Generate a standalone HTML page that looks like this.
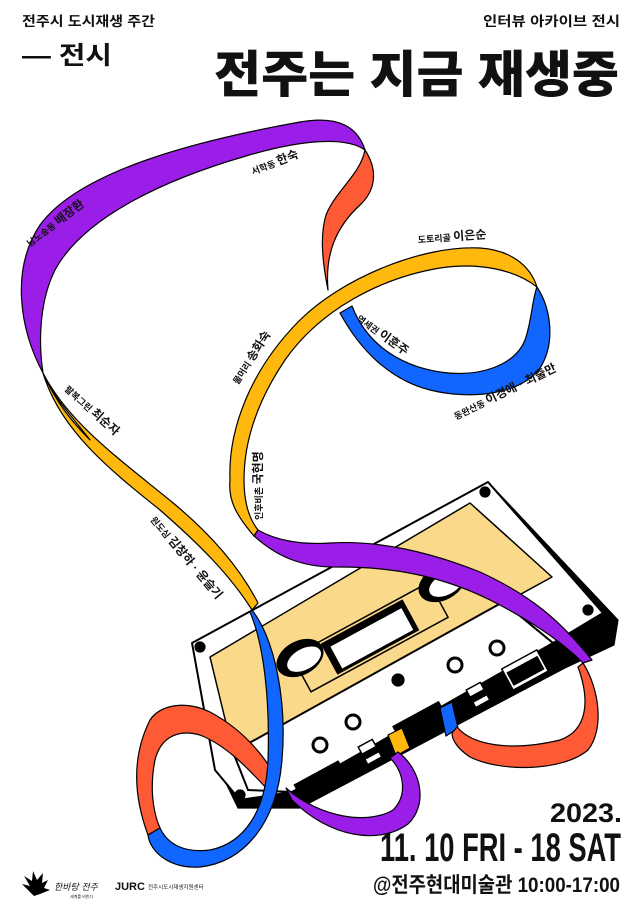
<!DOCTYPE html>
<html><head><meta charset="utf-8"><style>
html,body{margin:0;padding:0;background:#fff}
svg{display:block}
text{font-family:"Liberation Sans","Noto Sans CJK KR",sans-serif;fill:#111}
</style></head><body>
<svg width="642" height="910" viewBox="0 0 642 910" xmlns="http://www.w3.org/2000/svg">
<rect width="642" height="910" fill="#fff"/>
<text x="22" y="26" font-size="13.5" font-weight="bold" textLength="133" lengthAdjust="spacingAndGlyphs">전주시 도시재생 주간</text>
<text x="22" y="64" font-size="25" font-weight="bold" textLength="90" lengthAdjust="spacingAndGlyphs">— 전시</text>
<text x="483" y="26" font-size="13.5" font-weight="bold" textLength="137" lengthAdjust="spacingAndGlyphs">인터뷰 아카이브 전시</text>
<text x="214" y="92" font-size="50" font-weight="900" textLength="405" lengthAdjust="spacingAndGlyphs">전주는 지금 재생중</text>

<g stroke="#000" stroke-width="1.2" stroke-linejoin="round">
<polygon points="488,482 618,620 614,645 565,668 300,808 238,808 222,775 215,768" fill="#000"/>
<polygon points="192,643 488,482 603,613 553,643 292,792 240,800 215,770" fill="#fff" stroke-width="2"/>
<polygon points="210,657 470,503 552,577 233,752" fill="#fbd98a" stroke-width="1.5"/>
<polygon points="233,752 503,602 553,643 292,792 248,790" fill="#fff" stroke-width="2"/>
<g transform="translate(370,637) rotate(-28.5)">
<rect x="-46" y="-17" width="92" height="34" fill="#000"/>
<rect x="-40" y="-11" width="82" height="26" fill="#fff"/>
<rect x="-78" y="-20" width="156" height="40" fill="none" stroke-width="1.5"/>
</g>
<g transform="translate(300,658) rotate(-28.5)"><ellipse rx="24" ry="16" fill="#000" stroke-width="2"/><ellipse cx="3" cy="3" rx="19" ry="11" fill="#fff"/></g>
<g transform="translate(442,583) rotate(-28.5)"><ellipse rx="24" ry="16" fill="#000" stroke-width="2"/><ellipse cx="3" cy="3" rx="19" ry="11" fill="#fff"/></g>
<circle cx="200" cy="647" r="5" fill="#000"/><circle cx="485" cy="492" r="5" fill="#000"/>
<circle cx="588" cy="610" r="5" fill="#000"/><circle cx="240" cy="795" r="5" fill="#000"/>
<circle cx="398" cy="680" r="6" fill="#000"/>
<circle cx="455" cy="665" r="7" fill="#fff" stroke-width="3"/>
<circle cx="497" cy="648" r="7" fill="#fff" stroke-width="3"/>
<circle cx="353" cy="722" r="7" fill="#fff" stroke-width="3"/>
<circle cx="320" cy="745" r="7" fill="#fff" stroke-width="3"/>
<g transform="translate(525,670) rotate(-28.5)"><rect x="-20" y="-12" width="40" height="24" fill="#fff" stroke-width="1.5"/><rect x="-17" y="-6" width="34" height="14" fill="#000"/></g>
<g transform="translate(478,695) rotate(-28.5)"><rect x="-8" y="-10" width="16" height="20" fill="#fff" stroke-width="1.5"/><rect x="-8" y="-2" width="16" height="6" fill="#000"/></g>
<g transform="translate(370,752) rotate(-28.5)"><rect x="-8" y="-10" width="16" height="20" fill="#fff" stroke-width="1.5"/><rect x="-8" y="-2" width="16" height="6" fill="#000"/></g>
<g transform="translate(320,780) rotate(-28.5)"><rect x="-25" y="-8" width="50" height="16" fill="#000"/></g>
<g transform="translate(420,722) rotate(-28.5)"><rect x="-26" y="-9" width="52" height="18" fill="#000"/></g>
<polygon points="440,708 452,702 458,728 446,736" fill="#1166ff"/>
<polygon points="388,735 402,728 410,748 396,756" fill="#ffb80e"/>

<path d="M43,373 C20,330 10,270 40,225 C80,170 200,140 300,122 C340,115 358,128 365,150 C345,136 300,140 246,156 C170,178 85,215 55,270 C40,300 38,340 43,373Z" fill="#9b1de8"/>
<path d="M43,373 C60,430 110,470 160,510 C200,545 230,575 252,610 L258,603 C240,568 212,535 172,502 C118,458 68,422 43,373Z" fill="#ffb80e"/>
<path d="M43,373 C55,400 70,420 90,440 C75,420 55,400 43,373Z" fill="#fff"/>
<path d="M365,150 C378,170 376,190 360,205 C335,228 325,255 328,290 C322,260 320,235 326,215 C336,190 360,175 365,150Z" fill="#ff5a36"/>
<path d="M537,287 C552,310 555,345 540,368 C520,395 470,400 430,390 C390,380 360,350 340,313 L352,306 C365,340 395,365 440,372 C480,378 515,365 525,340 C532,320 532,300 537,287Z" fill="#1166ff"/>
<path d="M254,536 C236,515 228,500 230,480 C228,430 250,370 300,320 C340,280 420,245 480,248 C510,250 530,265 537,287 C515,270 480,262 440,268 C380,278 320,310 285,360 C258,400 244,440 244,480 C244,505 250,520 258,530Z" fill="#ffb80e"/>
<path d="M254,536 C275,555 300,568 340,567 C390,567 440,575 490,600 C530,620 560,640 583,663 L592,660 C560,620 530,595 480,572 C430,552 380,540 330,543 C300,545 275,540 258,530Z" fill="#9b1de8"/>
<path d="M583,663 C600,690 604,730 588,750 C562,772 500,772 470,757 C455,747 452,738 452,733 L457,727 C472,745 510,752 560,740 C588,730 590,700 578,667Z" fill="#ff5a36"/>
<path d="M148,835 C135,800 130,760 150,720 C160,705 185,700 210,712 C240,728 260,750 275,775 L268,790 C245,765 225,745 200,735 C175,728 160,740 155,760 C150,785 152,810 160,828Z" fill="#ff5a36"/>
<path d="M398,752 C422,770 428,805 408,824 C380,845 330,838 292,800 L286,788 C320,818 368,825 393,810 C408,795 404,772 390,758Z" fill="#9b1de8"/>
<path d="M252,610 C275,640 287,700 282,760 C277,822 245,862 200,867 C170,869 150,852 148,835 L160,828 C168,845 185,853 210,850 C245,843 266,810 268,760 C270,700 264,645 250,612Z" fill="#1166ff"/>
</g>

<g font-weight="bold">
<text transform="translate(30,247) rotate(-37)" font-size="9">남노송동 <tspan font-size="12">배장환</tspan></text>
<text transform="translate(253,175) rotate(-21)" font-size="9">서학동 <tspan font-size="12">한숙</tspan></text>
<text transform="translate(418,243) rotate(-4)" font-size="9">도토리골 <tspan font-size="12">이은순</tspan></text>
<text transform="translate(238,385) rotate(-57)" font-size="9">물머리 <tspan font-size="12">송화숙</tspan></text>
<text transform="translate(356,320) rotate(36)" font-size="9">역세권 <tspan font-size="12">이훈주</tspan></text>
<text transform="translate(456,420) rotate(-26)" font-size="9">동완산동 <tspan font-size="12">이경애 · 최출만</tspan></text>
<text transform="translate(64,390) rotate(42)" font-size="9">팔복그린 <tspan font-size="12">최순자</tspan></text>
<text transform="translate(262,520) rotate(-90)" font-size="9">인후비촌 <tspan font-size="12">국현명</tspan></text>
<text transform="translate(150,520) rotate(50)" font-size="9">원도심 <tspan font-size="12">김창하 · 윤슬기</tspan></text>
</g>

<text x="550" y="822" font-size="27" font-weight="bold" textLength="72" lengthAdjust="spacingAndGlyphs">2023.</text>
<text x="380" y="861" font-size="40" font-weight="bold" textLength="241" lengthAdjust="spacingAndGlyphs">11. 10 FRI - 18 SAT</text>
<text x="373" y="892" font-size="21" font-weight="bold" textLength="247" lengthAdjust="spacingAndGlyphs">@전주현대미술관 10:00-17:00</text>

<g fill="#000">
<path d="M34,896 L22,884 L30,886 L24,876 L32,881 L33,871 L37,880 L43,873 L42,883 L48,880 L44,888 L50,890 L40,894Z"/>
<text x="54" y="890" font-size="9" font-style="italic">한바탕 전주</text>
<text x="70" y="898" font-size="4">세계를 비빈다</text>
<text x="115" y="890" font-size="11" font-weight="bold">JURC</text>
<text x="148" y="889" font-size="5.5">전주시도시재생지원센터</text>
</g>
</svg>
</body></html>
